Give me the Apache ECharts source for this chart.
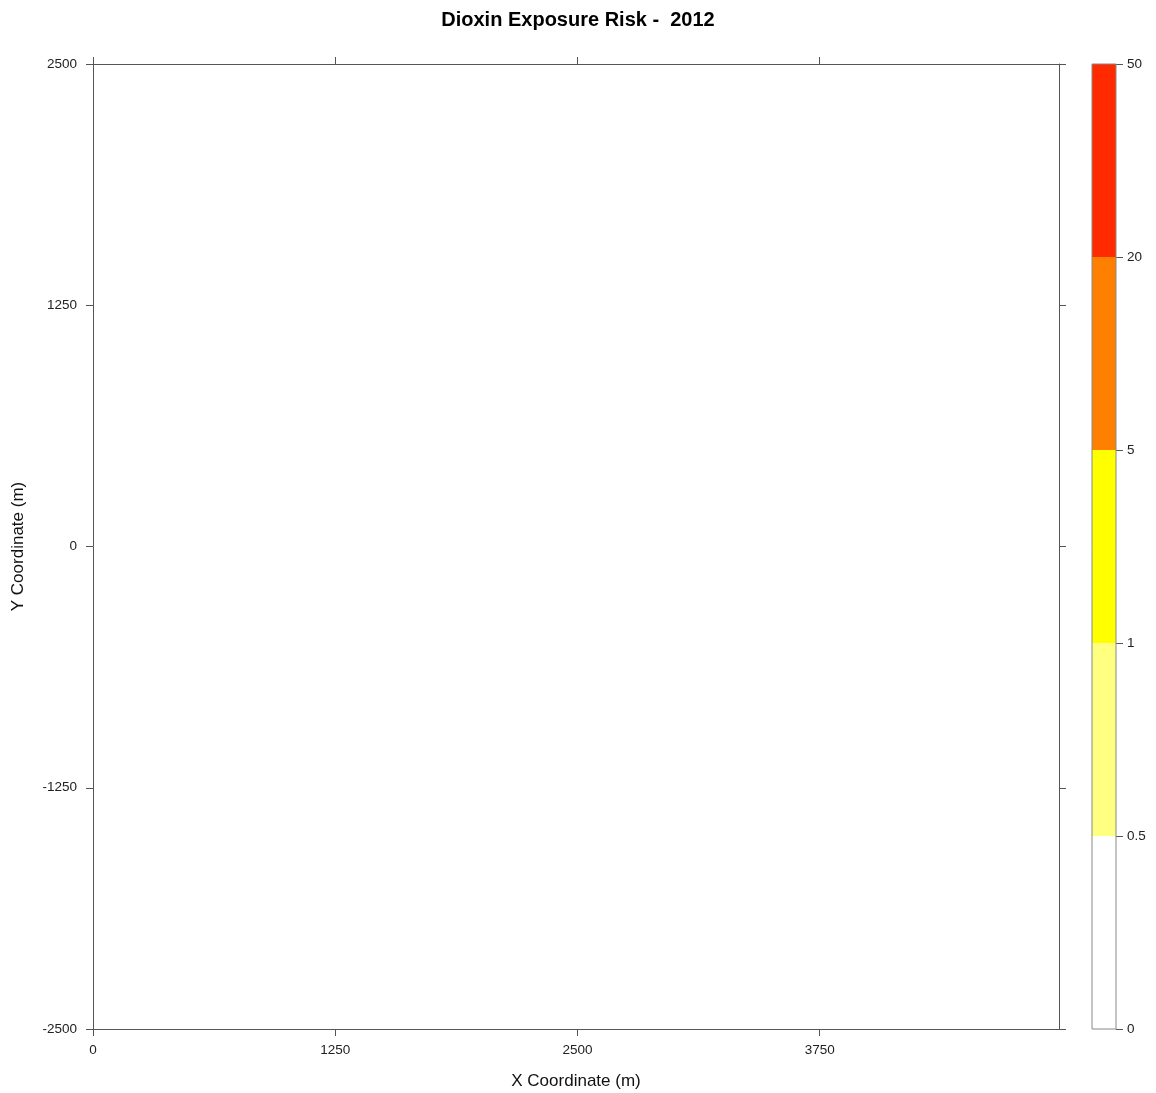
<!DOCTYPE html>
<html>
<head>
<meta charset="utf-8">
<script src="https://cdn.jsdelivr.net/npm/echarts@6/dist/echarts.min.js"></script>
<style>
  html, body { margin: 0; padding: 0; background: #fff; }
  #chart { width: 1156px; height: 1093px; }
</style>
</head>
<body>
<div id="chart"></div>
<script>
// axis ticks of the map
var xTicks = [0, 1250, 2500, 3750];
var yTicks = [-2500, -1250, 0, 1250, 2500];
var xRange = [0, 4985];
var yRange = [-2500, 2500];

// colour key: break values and band colours (bottom to top)
var riskBreaks = ['0', '0.5', '1', '5', '20', '50'];
var riskColors = ['#ffffff', '#ffff80', '#ffff00', '#ff8000', '#ff2a00'];

// no exposure cells above the lowest class this year
var riskCells = [];

var FONT = 'Liberation Sans, Arial, sans-serif';
var LINE = '#555';

var chart = echarts.init(document.getElementById('chart'));

var lineStyle = { show: true, onZero: false, lineStyle: { color: LINE, width: 1 } };
var labelStyle = { color: '#222', fontFamily: FONT, fontSize: 13.5 };
function plain(v) { return String(v); }

function xAxisDef(pos, withLabels) {
    return {
        type: 'value', gridIndex: 0, position: pos,
        min: xRange[0], max: xRange[1],
        axisLine: lineStyle,
        axisTick: { show: true, inside: false, length: 7, customValues: xTicks, lineStyle: { color: LINE, width: 1 } },
        splitLine: { show: false },
        axisLabel: Object.assign({ show: withLabels, margin: 14, customValues: xTicks, formatter: plain }, labelStyle),
        name: withLabels ? 'X Coordinate (m)' : '',
        nameLocation: 'middle', nameGap: 44,
        nameTextStyle: { color: '#111', fontFamily: FONT, fontSize: 17 }
    };
}
function yAxisDef(pos, withLabels) {
    return {
        type: 'value', gridIndex: 0, position: pos,
        min: yRange[0], max: yRange[1],
        axisLine: lineStyle,
        axisTick: { show: true, inside: false, length: 7, customValues: yTicks, lineStyle: { color: LINE, width: 1 } },
        splitLine: { show: false },
        axisLabel: Object.assign({ show: withLabels, margin: 16, customValues: yTicks, formatter: plain }, labelStyle),
        name: withLabels ? 'Y Coordinate (m)' : '',
        nameLocation: 'middle', nameGap: 66,
        nameTextStyle: { color: '#111', fontFamily: FONT, fontSize: 17 }
    };
}

var keySeries = riskColors.map(function (c, i) {
    return {
        type: 'bar', xAxisIndex: 2, yAxisIndex: 2, stack: 'key',
        barWidth: '100%', silent: true,
        itemStyle: { color: c },
        data: [1]
    };
});

var option = {
    animation: false,
    backgroundColor: '#fff',
    title: {
        text: 'Dioxin Exposure Risk -  2012',
        left: 'center', top: 5,
        textStyle: { color: '#000', fontFamily: FONT, fontSize: 20, fontWeight: 'bold' }
    },
    grid: [
        { left: 93, top: 64, width: 966, height: 965, outerBoundsMode: 'none', containLabel: false },
        { left: 1092, top: 64, width: 24, height: 965, show: true, outerBoundsMode: 'none', containLabel: false,
          borderColor: '#888', borderWidth: 1, backgroundColor: 'transparent', z: 3 }
    ],
    xAxis: [
        xAxisDef('bottom', true),
        xAxisDef('top', false),
        { type: 'category', gridIndex: 1, data: ['key'], show: false }
    ],
    yAxis: [
        yAxisDef('left', true),
        yAxisDef('right', false),
        {
            type: 'value', gridIndex: 1, position: 'right',
            min: 0, max: riskColors.length, interval: 1,
            axisLine: { show: false },
            axisTick: { show: true, length: 7, lineStyle: { color: LINE } },
            splitLine: { show: false },
            axisLabel: Object.assign({ margin: 11, formatter: function (v) { return riskBreaks[v]; } }, labelStyle)
        }
    ],
    series: [
        { type: 'scatter', xAxisIndex: 0, yAxisIndex: 0, data: riskCells, symbolSize: 4 }
    ].concat(keySeries)
};

chart.setOption(option);
</script>
</body>
</html>
